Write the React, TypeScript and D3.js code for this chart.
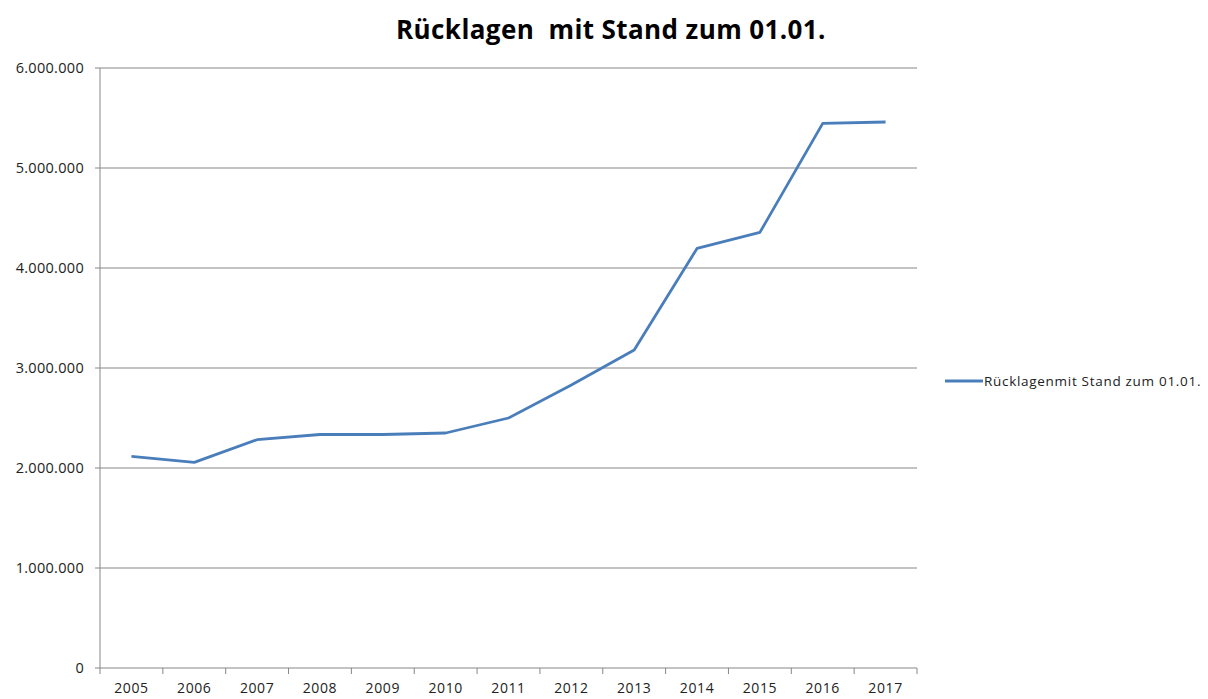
import React from "react";
import * as d3 from "d3";

const years = ["2005","2006","2007","2008","2009","2010","2011","2012","2013","2014","2015","2016","2017"];
const values = [2116000, 2056000, 2283000, 2335000, 2335000, 2350000, 2500000, 2830000, 3180000, 4196000, 4356000, 5446000, 5460000];
const yTicks = [0, 1000000, 2000000, 3000000, 4000000, 5000000, 6000000];
const title = "Rücklagen  mit Stand zum 01.01.";
const legendLabel = "Rücklagenmit Stand zum 01.01.";

const W = 1208, H = 699;
const left = 100, right = 917, top = 68, bottom = 668;

export default function App() {
  const x = d3.scaleBand<string>().domain(years).range([left, right]);
  const y = d3.scaleLinear().domain([0, 6000000]).range([bottom, top]);
  const fmt = (v: number) => v === 0 ? "0" : d3.format(",")(v).replace(/,/g, ".");
  const line = d3.line<number>()
    .x((_, i) => (x(years[i]) as number) + x.bandwidth() / 2)
    .y(d => y(d));
  const boundaries = years.map(yr => x(yr) as number).concat([right]);
  const font = "'Open Sans', 'Noto Sans', sans-serif";
  return (
    <svg width={W} height={H} style={{ position: "absolute", left: 0, top: 0, background: "#fff" }}>
      <text x={611} y={39} textAnchor="middle" fontFamily={font} fontWeight="bold" fontSize={26} letterSpacing={0.4} fill="#000" style={{ whiteSpace: "pre" }}>{title}</text>
      {yTicks.map(t => (
        <g key={t}>
          {t > 0 && <line x1={left} x2={right} y1={y(t)} y2={y(t)} stroke="#878787" strokeWidth={1} />}
          <line x1={left - 5} x2={left} y1={y(t)} y2={y(t)} stroke="#878787" strokeWidth={1} />
          <text x={84} y={y(t) + 5} textAnchor="end" fontFamily={font} fontSize={14.5} letterSpacing={0.3} fill="#222">{fmt(t)}</text>
        </g>
      ))}
      <line x1={left} x2={left} y1={top} y2={bottom} stroke="#878787" strokeWidth={1} />
      <line x1={left} x2={right} y1={bottom} y2={bottom} stroke="#878787" strokeWidth={1} />
      {boundaries.map((b, i) => (
        <line key={i} x1={b} x2={b} y1={bottom} y2={bottom + 6} stroke="#878787" strokeWidth={1} />
      ))}
      {years.map(yr => (
        <text key={yr} x={(x(yr) as number) + x.bandwidth() / 2} y={693} textAnchor="middle" fontFamily={font} fontSize={14} letterSpacing={0.6} fill="#222">{yr}</text>
      ))}
      <path d={line(values) as string} fill="none" stroke="#4a7ebb" strokeWidth={2.8} strokeLinejoin="round" />
      <line x1={945} x2={983} y1={381} y2={381} stroke="#4a7ebb" strokeWidth={2.8} />
      <text x={984} y={386} fontFamily={font} fontSize={13.5} letterSpacing={0.7} fill="#222">{legendLabel}</text>
    </svg>
  );
}
